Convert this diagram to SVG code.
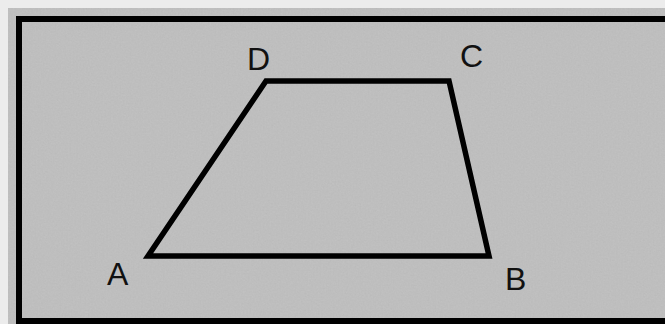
<svg xmlns="http://www.w3.org/2000/svg" width="665" height="324" viewBox="0 0 665 324">
<defs>
<filter id="tex" x="0" y="0" width="100%" height="100%">
<feTurbulence type="fractalNoise" baseFrequency="0.6" numOctaves="2" seed="3" result="n"/>
<feColorMatrix in="n" type="matrix" values="0 0 0 0 0.74  0 0 0 0 0.74  0 0 0 0 0.74  0.25 0.25 0.25 0 -0.2" result="c"/>
<feComposite in="c" in2="SourceGraphic" operator="in"/>
</filter>
<style>
.lbl{font-family:"Liberation Sans",Arial,sans-serif;font-size:32px;fill:#111}
.edge{fill:none;stroke:#000;stroke-width:5.5;stroke-linejoin:miter}
</style>
</defs>
<rect x="0" y="0" width="665" height="324" fill="#ececec"/>
<rect x="8" y="8" width="657" height="316" fill="#bbbbbb"/>
<rect x="8" y="8" width="657" height="316" fill="#888" filter="url(#tex)" opacity="0.5"/>
<rect x="19" y="19" width="660" height="302" fill="none" stroke="#000" stroke-width="6"/>
<g id="connectors">
<polygon class="edge" points="148,256 489,256 449,81 266,81"/>
</g>
<g id="A"><text class="lbl" x="107" y="285">A</text></g>
<g id="B"><text class="lbl" x="505" y="290">B</text></g>
<g id="C"><text class="lbl" x="460" y="67">C</text></g>
<g id="D"><text class="lbl" x="247" y="70">D</text></g>
</svg>
